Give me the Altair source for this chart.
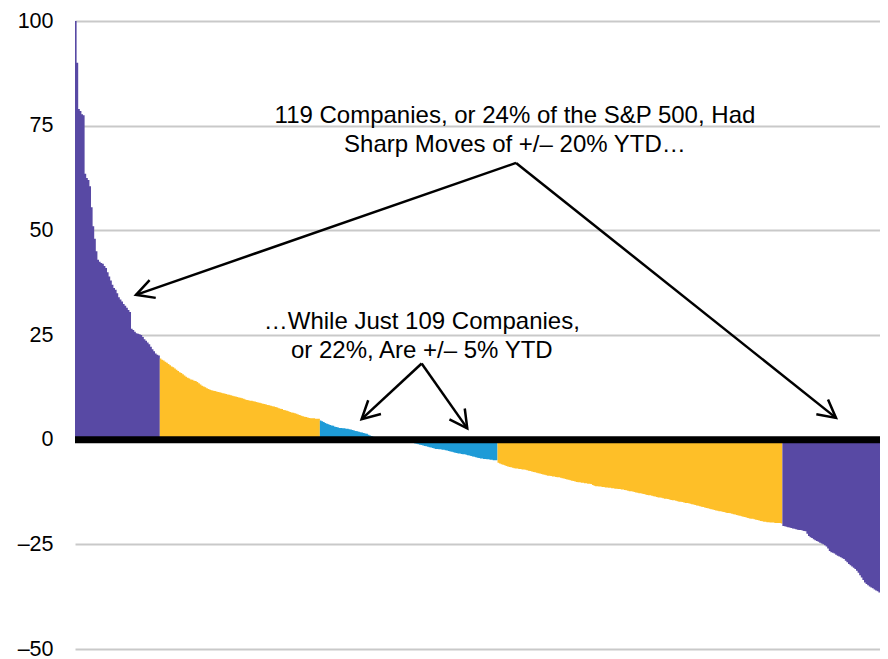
import math
import altair as alt
import pandas as pd

# ---- bar values (YTD % return, sorted) ----
purple_left = [100, 90, 79, 78.5, 77.7, 77.5, 63.5, 62.5, 62, 60.5,
               55.5, 51, 48, 45, 43, 42.5, 42.2, 42, 41.5, 41,
               40, 39, 38, 37, 36.2, 35.8, 35, 34, 33.5, 33,
               32.4, 32, 31.5, 31, 30.5, 26.5, 26.2, 25.8, 25.4, 25.3,
               25.2, 25, 24.5, 24, 23.6, 23.2, 22.8, 22.2, 21.6, 21.1,
               20.6, 20.3, 20.1]
yellow_up = [19.4, 19.1, 18.9, 18.6, 18.4, 18.1,
             17.8, 17.5, 17.3, 17.0, 16.7, 16.4, 16.1, 15.9,
             15.6, 15.3, 15.0, 14.8, 14.6,
             14.4, 14.3, 14.1, 14.0,
             13.8, 13.5, 13.2, 12.9, 12.7, 12.5, 12.3,
             12.1, 11.9, 11.8, 11.7, 11.6, 11.5,
             11.4, 11.3, 11.2, 11.1, 11.0, 10.9,
             10.8, 10.7, 10.6, 10.5, 10.4, 10.3,
             10.2, 10.1, 10.0, 9.9, 9.8, 9.6,
             9.5, 9.4, 9.3, 9.3, 9.2, 9.1,
             9.0, 8.9, 8.8, 8.7, 8.6, 8.5,
             8.4, 8.3, 8.2, 8.1, 8.0, 7.9,
             7.8, 7.7, 7.5, 7.4, 7.3, 7.1,
             7.0, 6.9, 6.8, 6.6, 6.5, 6.4,
             6.3, 6.2, 6.0, 5.9, 5.7, 5.6,
             5.5, 5.4, 5.3, 5.2, 5.1,
             5.1, 5.1, 5.0, 5.0, 5.0]
blue_mid = [4.6,
            4.4, 4.2, 4.0, 3.8, 3.7,
            3.5, 3.4, 3.3, 3.1, 3.0, 2.9,
            2.8, 2.8, 2.7, 2.7, 2.6, 2.6,
            2.5, 2.4, 2.3, 2.2, 2.1, 2.0,
            1.9, 1.8, 1.7, 1.6, 1.5, 1.4,
            1.2, 1.0, 0.9, 0.7, 0.6, 0.5,
            0.4, 0.4, 0.3, 0.3, 0.2, 0.2,
            0.2, 0.1, 0.1, 0.1, 0.0, 0.0,
            -0.1, -0.1, -0.2, -0.2, -0.3, -0.3,
            -0.4, -0.5, -0.6, -0.7, -0.8, -0.9,
            -1.0, -1.1, -1.2, -1.3, -1.4, -1.5,
            -1.6, -1.7, -1.8, -1.9, -2.0, -2.1,
            -2.2, -2.2, -2.3, -2.3, -2.4, -2.4,
            -2.5, -2.6, -2.7, -2.8, -2.9, -3.0,
            -3.1, -3.2, -3.3, -3.3, -3.4, -3.5,
            -3.5, -3.6, -3.7, -3.8, -3.9, -4.0,
            -4.1, -4.2, -4.3, -4.4, -4.5, -4.5,
            -4.6, -4.6, -4.7, -4.7, -4.8, -4.8,
            -4.9, -4.9, -4.9]
yellow_down = [-5.5, -5.7, -5.9, -6.0, -6.1, -6.3, -6.4, -6.5, -6.6, -6.7,
               -6.8, -6.9, -6.9, -7.0, -7.0, -7.1, -7.1, -7.2, -7.3, -7.4,
               -7.5, -7.6, -7.7, -7.8, -7.9, -8.0, -8.1, -8.2, -8.3, -8.4,
               -8.5, -8.6, -8.6, -8.7, -8.8, -8.8, -8.9, -9.0, -9.0, -9.1,
               -9.2, -9.3, -9.4, -9.5, -9.6, -9.7, -9.8, -9.9, -10.0, -10.1,
               -10.2, -10.2, -10.3, -10.3, -10.4, -10.4, -10.5, -10.5, -10.6, -10.8,
               -11.0, -11.1, -11.1, -11.2, -11.2, -11.3, -11.3, -11.4, -11.4, -11.5,
               -11.5, -11.6, -11.6, -11.7, -11.7, -11.8, -11.8, -11.9, -11.9, -12.0,
               -12.1, -12.2, -12.3, -12.3, -12.4, -12.5, -12.6, -12.7, -12.8, -12.8,
               -12.9, -13.0, -13.1, -13.2, -13.3, -13.3, -13.4, -13.5, -13.6, -13.7,
               -13.8, -13.8, -13.9, -14.0, -14.1, -14.1, -14.2, -14.3, -14.4, -14.5,
               -14.5, -14.6, -14.7, -14.8, -14.8, -14.9, -15.0, -15.1, -15.1, -15.2,
               -15.3, -15.4, -15.5, -15.6, -15.7, -15.8, -15.9, -16.0, -16.1, -16.2,
               -16.3, -16.4, -16.5, -16.6, -16.7, -16.8, -16.9, -17.0, -17.1, -17.1,
               -17.2, -17.3, -17.4, -17.5, -17.5, -17.6, -17.7, -17.8, -17.9, -18.0,
               -18.1, -18.2, -18.3, -18.4, -18.5, -18.6, -18.7, -18.8, -18.9, -18.9,
               -19.0, -19.1, -19.2, -19.3, -19.4, -19.5, -19.6, -19.6, -19.7, -19.7,
               -19.8, -19.8, -19.8, -19.9, -19.9, -19.9, -19.9, -20.0]
purple_right = [-20.6,
                -20.7, -20.8, -20.9, -21.0, -21.1, -21.2, -21.3, -21.4,
                -21.5, -21.6, -21.6, -21.7, -21.8, -21.9,
                -22.5, -23.0, -23.3, -23.5,
                -23.8, -24.0, -24.2, -24.4, -24.6, -24.8,
                -25.0, -25.2, -25.5, -26.0,
                -26.6, -26.9, -27.0, -27.2,
                -27.5, -27.7, -27.9, -28.1, -28.3, -28.5,
                -28.9, -29.3, -29.7, -30.0, -30.3, -30.6,
                -30.9, -31.3, -31.8, -32.4,
                -32.9, -33.5, -34.1, -34.5,
                -34.8, -35.1, -35.3, -35.5,
                -35.8, -36.0, -36.2, -36.5]

y_ticks = [-50, -25, 0, 25, 50, 75, 100]

# ---- annotation texts and arrows (in data units: rank, % value) ----
text_lines = ["119 Companies, or 24% of the S&P 500, Had",
              "Sharp Moves of +/\u2013 20% YTD\u2026",
              "\u2026While Just 109 Companies,",
              "or 22%, Are +/\u2013 5% YTD"]
text_x = [274.9, 274.9, 216.7, 216.7]
text_y = [75.7, 68.8, 26.4, 19.5]

arrow_from_x = [275.6, 275.6, 216.6, 216.6]
arrow_from_y = [66.1, 66.1, 18.2, 18.2]
arrow_to_x = [38.1, 475.5, 179.1, 245.1]
arrow_to_y = [34.6, 5.2, 4.9, 2.7]

# ---- build ----
segments = [purple_left, yellow_up, blue_mid, yellow_down, purple_right]
seg_groups = ["big", "mid", "small", "mid", "big"]
values = [v for s in segments for v in s]
N = len(values)
W, H = 805, 628
Y_MIN, Y_MAX = -50, 100

# step-area rows: one path per segment, closed with its last value
rows = []
start = 0
for sid, (seg, g) in enumerate(zip(segments, seg_groups)):
    for k, v in enumerate(seg):
        rows.append({"i": start + k, "v": v, "g": g, "seg": sid})
    rows.append({"i": start + len(seg), "v": seg[-1], "g": g, "seg": sid})
    start += len(seg)
area_df = pd.DataFrame(rows)

angles = []
for fx, fy, tx, ty in zip(arrow_from_x, arrow_from_y, arrow_to_x, arrow_to_y):
    dx = (tx - fx) * W / N
    dy = -(ty - fy) * H / (Y_MAX - Y_MIN)
    angles.append(math.degrees(math.atan2(dy, dx)) % 360)

arrows = pd.DataFrame({"x": arrow_from_x, "y": arrow_from_y,
                       "x2": arrow_to_x, "y2": arrow_to_y, "ang": angles})
texts = pd.DataFrame({"x": text_x, "y": text_y, "t": text_lines})

xs = alt.Scale(domain=[0, N], nice=False, zero=False)
ys = alt.Scale(domain=[Y_MIN, Y_MAX], nice=False)
cscale = alt.Scale(domain=["big", "mid", "small"],
                   range=["#5849A4", "#FEBF28", "#1E9BD7"])

FONT = "Liberation Sans"
y_axis = alt.Axis(values=y_ticks, grid=True, gridColor="#c9c9c9",
                  gridWidth=2, ticks=False, tickSize=0, domain=False,
                  labelFont=FONT, labelFontSize=21.5, labelColor="black",
                  labelPadding=22, title=None,
                  labelExpr="datum.value < 0 ? '\u2013' + (-datum.value) : datum.label")

area_layer = alt.Chart(area_df).mark_area(interpolate="step-after").encode(
    x=alt.X("i:Q", scale=xs, axis=None),
    y=alt.Y("v:Q", scale=ys, axis=y_axis, stack=None),
    y2=alt.Y2(datum=0),
    color=alt.Color("g:N", scale=cscale, legend=None),
    detail="seg:N",
)

zero_layer = alt.Chart(pd.DataFrame({"z": [0]})).mark_rule(
    color="black", strokeWidth=7).encode(
    y=alt.Y("z:Q", scale=ys, axis=y_axis))

arrow_layer = alt.Chart(arrows).mark_rule(
    color="black", strokeWidth=2.5).encode(
    x=alt.X("x:Q", scale=xs, axis=None),
    y=alt.Y("y:Q", scale=ys, axis=y_axis),
    x2="x2:Q", y2="y2:Q")

head_layer = alt.Chart(arrows).mark_point(
    shape="M-1,-0.53L0,0L-1,0.53", size=1249, filled=False,
    color="black", strokeWidth=2.5, opacity=1, strokeJoin="miter").encode(
    x=alt.X("x2:Q", scale=xs, axis=None),
    y=alt.Y("y2:Q", scale=ys, axis=y_axis),
    angle=alt.Angle("ang:Q", scale=None))

text_layer = alt.Chart(texts).mark_text(
    font=FONT, fontSize=24, align="center", baseline="alphabetic",
    color="black").encode(
    x=alt.X("x:Q", scale=xs, axis=None),
    y=alt.Y("y:Q", scale=ys, axis=y_axis),
    text="t:N")

chart = alt.layer(area_layer, zero_layer, arrow_layer, head_layer, text_layer).properties(
    width=W, height=H,
    padding={"left": 67, "top": 13, "right": 0, "bottom": 10},
    autosize=alt.AutoSizeParams(type="none"),
    background="white",
).configure_view(strokeWidth=0)

chart.save("out.html", embed_options={"renderer": "svg", "actions": False})
